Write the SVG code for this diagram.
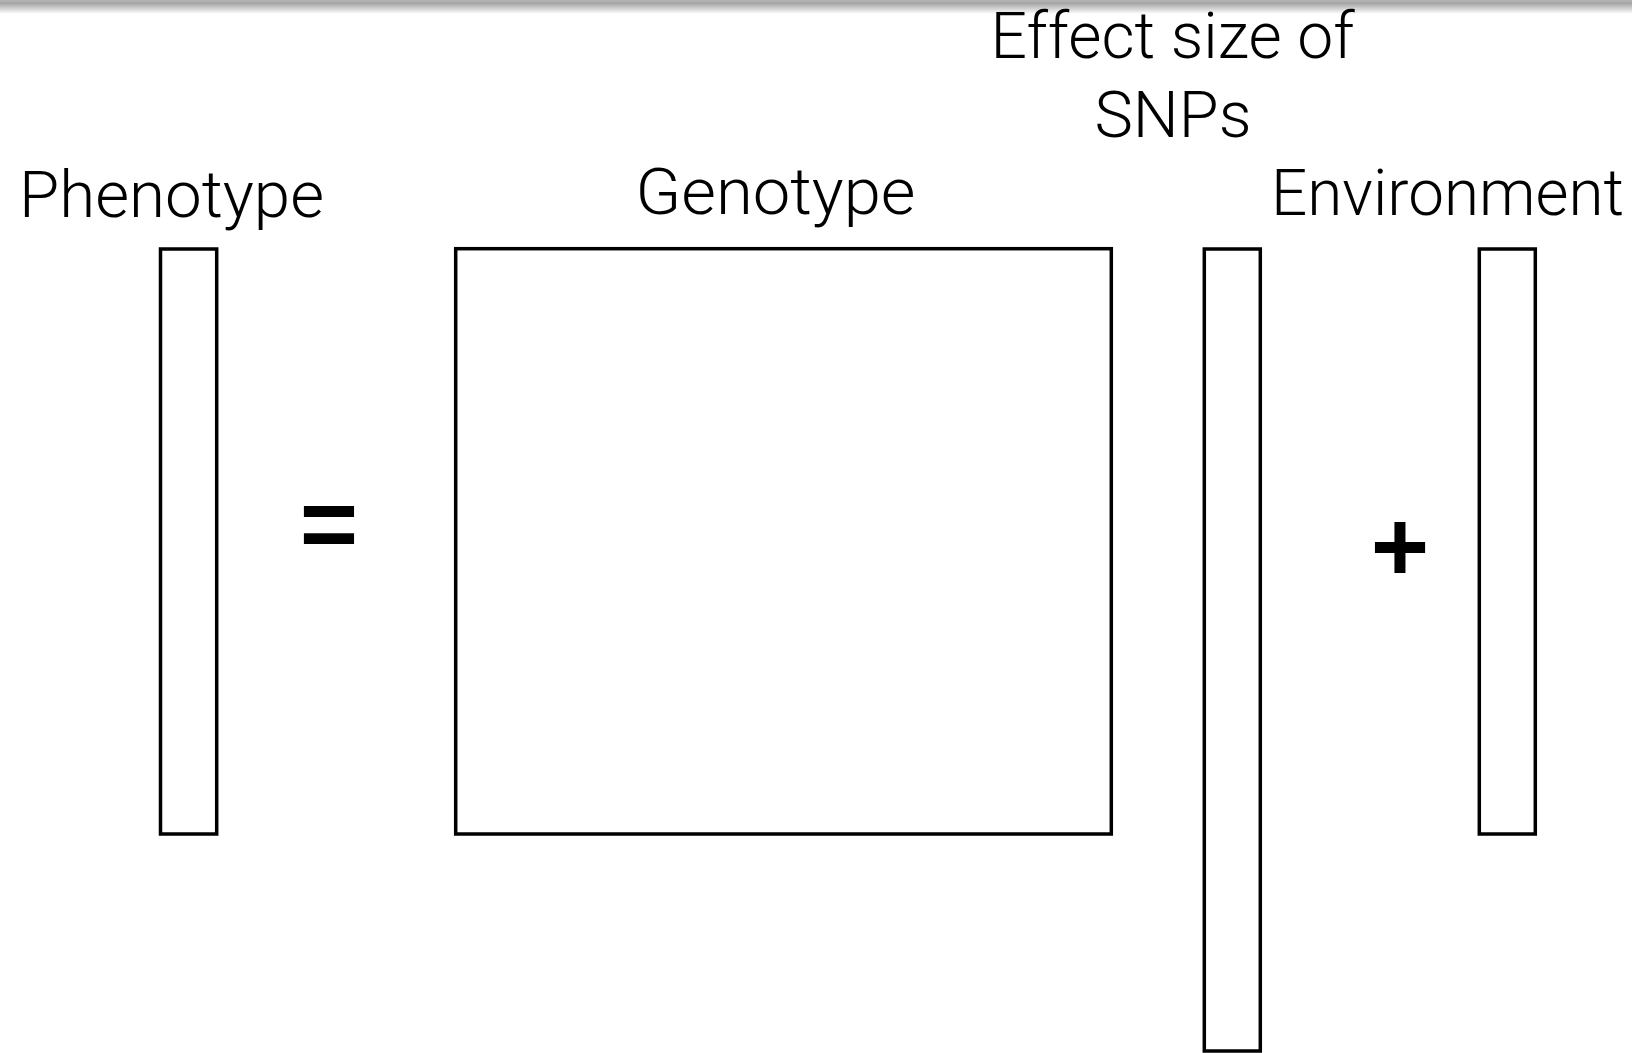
<svg xmlns="http://www.w3.org/2000/svg" width="1632" height="1053" viewBox="0 0 1632 1053">
  <defs>
    <linearGradient id="topShade" x1="0" y1="0" x2="0" y2="1">
      <stop offset="0" stop-color="#b4b4b4"/>
      <stop offset="0.25" stop-color="#a6a6a6"/>
      <stop offset="1" stop-color="#ffffff"/>
    </linearGradient>
  </defs>
  <style>
    .box { fill: #ffffff; stroke: #000000; stroke-width: 3.5; }
    .label { font-family: Roboto, "Liberation Sans", sans-serif; font-weight: 300; font-size: 65px; fill: #000000; }
    .op { font-family: "Liberation Sans", Arial, sans-serif; font-weight: bold; font-size: 100px; fill: #000000; text-anchor: middle; }
  </style>

  <rect x="0" y="0" width="1632" height="1053" fill="#ffffff"/>
  <rect x="0" y="0" width="1632" height="14" fill="url(#topShade)"/>

  <!-- y = G·β + ε laid out as column vectors and a matrix -->
  <g id="phenotype">
    <text class="label" x="19" y="216.7" textLength="305" lengthAdjust="spacingAndGlyphs">Phenotype</text>
    <rect class="box" x="160.5" y="249" width="56.2" height="585"/>
  </g>

  <g id="equals">
    <text class="op" x="329" y="558">=</text>
  </g>

  <g id="genotype">
    <text class="label" x="635.5" y="214" textLength="280" lengthAdjust="spacingAndGlyphs">Genotype</text>
    <rect class="box" x="455.7" y="248.7" width="655.6" height="585.3"/>
  </g>

  <g id="effect-size">
    <text class="label" x="990.5" y="58.3" textLength="364" lengthAdjust="spacingAndGlyphs">Effect size of</text>
    <text class="label" x="1094.5" y="136.7" textLength="157" lengthAdjust="spacingAndGlyphs">SNPs</text>
    <rect class="box" x="1204.3" y="249" width="56" height="802"/>
  </g>

  <g id="plus">
    <text class="op" x="1400" y="581">+</text>
  </g>

  <g id="environment">
    <text class="label" x="1271" y="215" textLength="353" lengthAdjust="spacingAndGlyphs">Environment</text>
    <rect class="box" x="1479.3" y="249" width="56" height="585"/>
  </g>
</svg>
